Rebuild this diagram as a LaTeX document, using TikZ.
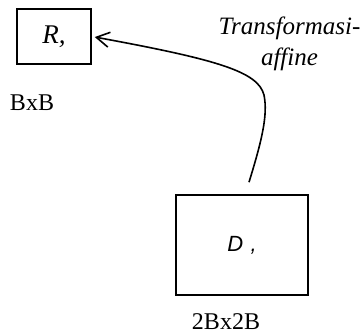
\documentclass[tikz,border=0pt]{standalone}
\usepackage{fontspec}
\setmainfont{Liberation Serif}
\newfontfamily\boxfont{Liberation Sans}
\usetikzlibrary{arrows.meta,positioning}
\tikzset{
  blok/.style={draw,line width=1.6pt,inner sep=0pt},
  ukuran/.style={font=\fontsize{24}{28}\selectfont,inner sep=0pt}
}
\begin{document}
\begin{tikzpicture}[x=1pt,y=-1pt]
    \useasboundingbox (0,0) rectangle (364,332);

    \node[blok,minimum width=74pt,minimum height=55pt,font=\fontsize{27}{30}\selectfont\itshape] (rbox) at (54,36.5) {R,};
    \node[blok,minimum width=132pt,minimum height=100pt,font=\fontsize{22}{26}\selectfont\boxfont\itshape] (dbox) at (242,245) {D\,\,,};

    \node[ukuran] (rsize) at (32,103) {BxB};
    \node[ukuran] (dsize) at (226,322) {2Bx2B};

    \node[font=\fontsize{25}{31}\selectfont\itshape,align=center,inner sep=0pt] (trans) at (289.5,44) {Transformasi-\\affine};

    \draw[line width=1.6pt,-{Straight Barb[length=13pt,width=15pt,line width=1.6pt]},shorten >=3pt]
	    ([xshift=7pt,yshift=12pt]dbox.north) .. controls (262,140) and (268,115) .. (264,95)
	    .. controls (258,72) and (220,60) .. (rbox.east);
\end{tikzpicture}
\end{document}
